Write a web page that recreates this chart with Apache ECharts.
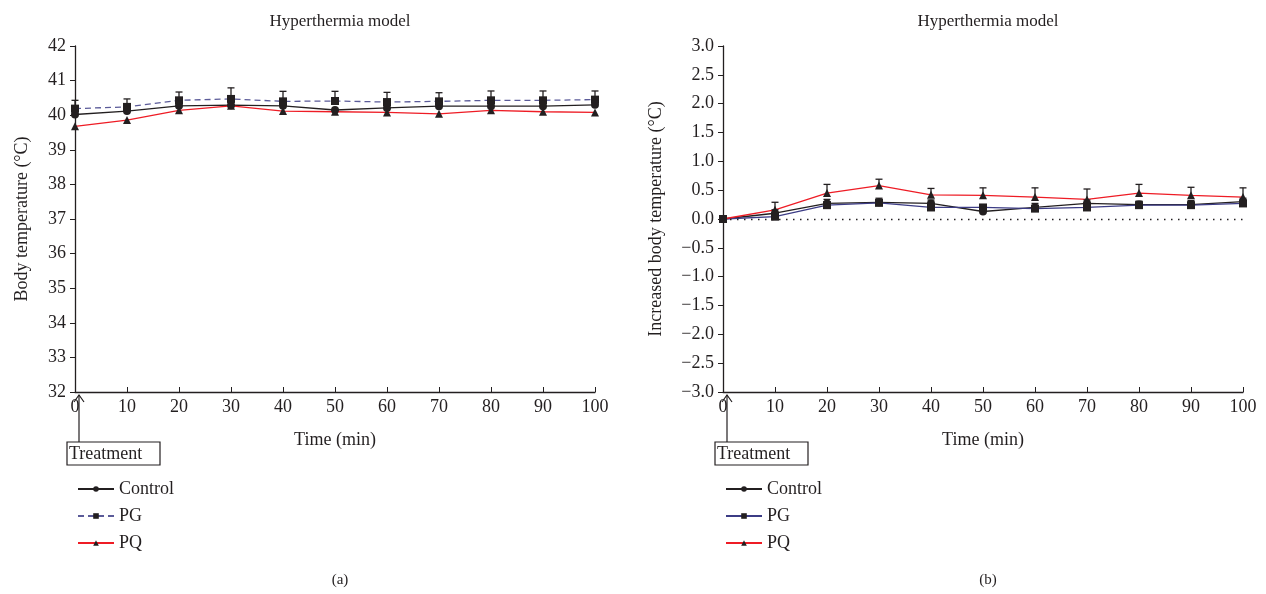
<!DOCTYPE html>
<html>
<head>
<meta charset="utf-8">
<script src="https://cdn.jsdelivr.net/npm/echarts@6/dist/echarts.min.js"></script>
<style>
  html, body { margin: 0; padding: 0; background: #fff; }
  #chartA { position: absolute; left: 0; top: 0; width: 633px; height: 594px; }
  #chartB { position: absolute; left: 633px; top: 0; width: 633px; height: 594px; }
</style>
</head>
<body>
<div id="chartA"></div>
<div id="chartB"></div>
<script>
// time points (min)
var times = [0, 10, 20, 30, 40, 50, 60, 70, 80, 90, 100];
var seriesNames = ['Control', 'PG', 'PQ'];

// (a) body temperature, deg C
var tempControl = [40.02, 40.12, 40.27, 40.29, 40.27, 40.15, 40.21, 40.26, 40.26, 40.26, 40.30];
var tempPG      = [40.19, 40.24, 40.43, 40.47, 40.40, 40.41, 40.38, 40.40, 40.43, 40.43, 40.45];
var tempPQ      = [39.68, 39.86, 40.14, 40.27, 40.12, 40.10, 40.08, 40.04, 40.14, 40.10, 40.08];
var tempPGErr   = [0.24, 0.23, 0.24, 0.32, 0.29, 0.28, 0.28, 0.25, 0.27, 0.27, 0.25];

// (b) increase in body temperature, deg C
var riseControl = [0, 0.10, 0.27, 0.29, 0.27, 0.13, 0.20, 0.27, 0.25, 0.25, 0.30];
var risePG      = [0, 0.04, 0.24, 0.28, 0.20, 0.20, 0.18, 0.20, 0.24, 0.24, 0.27];
var risePQ      = [0, 0.16, 0.45, 0.58, 0.42, 0.41, 0.38, 0.34, 0.45, 0.41, 0.38];
var risePQErr   = [0, 0.13, 0.15, 0.11, 0.11, 0.13, 0.16, 0.18, 0.15, 0.14, 0.16];
var riseControlErr = [0, 0.06, 0.07, 0.07, 0.06, 0.08, 0.07, 0.06, 0.06, 0.07, 0.06];

var FONT = '"Liberation Serif", "DejaVu Serif", serif';
var INK = '#231f20';
var RED = '#ee1c25';

function pairs(vals) {
  return times.map(function (t, i) { return [t, vals[i]]; });
}

function lineSeries(name, vals, color, dash, symbol) {
  return {
    name: name,
    type: 'line',
    data: pairs(vals),
    symbol: symbol,
    symbolSize: 8,
    z: 3,
    lineStyle: { color: color, width: 1.3, type: dash },
    itemStyle: { color: INK, borderWidth: 0 }
  };
}

function errorSeries(vals, errs) {
  return {
    type: 'custom',
    z: 4,
    silent: true,
    renderItem: function (params, api) {
      var x = api.value(0);
      var p0 = api.coord([x, api.value(1)]);
      var p1 = api.coord([x, api.value(2)]);
      var st = { stroke: INK, lineWidth: 1.3 };
      return {
        type: 'group',
        children: [
          { type: 'line', shape: { x1: p0[0], y1: p0[1], x2: p1[0], y2: p1[1] }, style: st },
          { type: 'line', shape: { x1: p1[0] - 3.5, y1: p1[1], x2: p1[0] + 3.5, y2: p1[1] }, style: st }
        ]
      };
    },
    data: times.map(function (t, i) { return [t, vals[i], vals[i] + errs[i]]; })
      .filter(function (d, i) { return errs[i] > 0; })
  };
}

function buildOption(cfg) {
  var cx = cfg.gridLeft + 260;
  return {
    animation: false,
    textStyle: { fontFamily: FONT, color: INK },
    title: [
      { text: 'Hyperthermia model', left: cx, top: 8, textAlign: 'center',
        textStyle: { fontFamily: FONT, fontSize: 17, fontWeight: 'normal', color: INK } },
      { text: cfg.tag, left: cx, top: 568, textAlign: 'center',
        textStyle: { fontFamily: FONT, fontSize: 15, fontWeight: 'normal', color: INK } }
    ],
    legend: {
      orient: 'vertical',
      left: cfg.gridLeft - 3,
      top: 475,
      itemWidth: 36,
      itemHeight: 7,
      itemGap: 9,
      data: seriesNames,
      textStyle: { fontFamily: FONT, fontSize: 18, color: INK }
    },
    grid: { left: cfg.gridLeft, top: 46, width: 520, height: 346 },
    xAxis: {
      type: 'value',
      min: 0, max: 100, interval: 10,
      name: 'Time (min)',
      nameLocation: 'middle',
      nameGap: 39,
      nameTextStyle: { fontFamily: FONT, fontSize: 18, color: INK },
      axisLine: { onZero: false, lineStyle: { color: INK, width: 1.3 } },
      axisTick: { inside: true, length: 5, lineStyle: { color: INK } },
      axisLabel: { fontFamily: FONT, fontSize: 18, color: INK, margin: 6 },
      splitLine: { show: false }
    },
    yAxis: {
      type: 'value',
      min: cfg.yMin, max: cfg.yMax, interval: cfg.yStep,
      name: cfg.yName,
      nameLocation: 'middle',
      nameGap: cfg.nameGap,
      nameTextStyle: { fontFamily: FONT, fontSize: 18, color: INK },
      axisLine: { show: true, onZero: false, lineStyle: { color: INK, width: 1.3 } },
      axisTick: { show: true, length: 5, lineStyle: { color: INK } },
      axisLabel: { fontFamily: FONT, fontSize: 18, color: INK, margin: 9,
        formatter: cfg.labelFmt },
      splitLine: { show: false }
    },
    series: cfg.series
  };
}

function addTreatment(chart, yMin) {
  var p = chart.convertToPixel({ gridIndex: 0 }, [0, yMin]);
  var ax = p[0] + 4;
  chart.setOption({
    graphic: [
      { type: 'line', shape: { x1: ax, y1: p[1] + 3, x2: ax, y2: 442 },
        style: { stroke: INK, lineWidth: 1.2 } },
      { type: 'polyline', shape: { points: [[ax - 5, p[1] + 10], [ax, p[1] + 3], [ax + 5, p[1] + 10]] },
        style: { stroke: INK, lineWidth: 1.2, fill: null } },
      { type: 'rect', shape: { x: p[0] - 8, y: 442, width: 93, height: 23 },
        style: { stroke: INK, lineWidth: 1.2, fill: '#fff' } },
      { type: 'text', x: p[0] - 6, y: 454,
        style: { text: 'Treatment', font: '18px ' + FONT, fill: INK, verticalAlign: 'middle' } }
    ]
  });
}

var chartA = echarts.init(document.getElementById('chartA'));
chartA.setOption(buildOption({
  tag: '(a)',
  gridLeft: 75,
  yMin: 32, yMax: 42, yStep: 1,
  yName: 'Body temperature (°C)',
  nameGap: 44,
  labelFmt: function (v) { return String(v); },
  series: [
    lineSeries('Control', tempControl, INK, 'solid', 'circle'),
    lineSeries('PG', tempPG, '#5b5b99', [6, 4], 'rect'),
    lineSeries('PQ', tempPQ, RED, 'solid', 'triangle'),
    errorSeries(tempPG, tempPGErr)
  ]
}));
addTreatment(chartA, 32);

var riseCtl = lineSeries('Control', riseControl, INK, 'solid', 'circle');
riseCtl.markLine = {
  silent: true,
  symbol: 'none',
  label: { show: false },
  lineStyle: { color: INK, width: 1.3, type: [1.5, 5.5] },
  data: [{ yAxis: 0 }]
};

var chartB = echarts.init(document.getElementById('chartB'));
chartB.setOption(buildOption({
  tag: '(b)',
  gridLeft: 90,
  yMin: -3, yMax: 3, yStep: 0.5,
  yName: 'Increased body temperature (°C)',
  nameGap: 58,
  labelFmt: function (v) { return (v < 0 ? '\u2212' : '') + Math.abs(v).toFixed(1); },
  series: [
    riseCtl,
    lineSeries('PG', risePG, '#3c3c85', 'solid', 'rect'),
    lineSeries('PQ', risePQ, RED, 'solid', 'triangle'),
    errorSeries(riseControl, riseControlErr),
    errorSeries(risePQ, risePQErr)
  ]
}));
addTreatment(chartB, -3);
</script>
</body>
</html>
